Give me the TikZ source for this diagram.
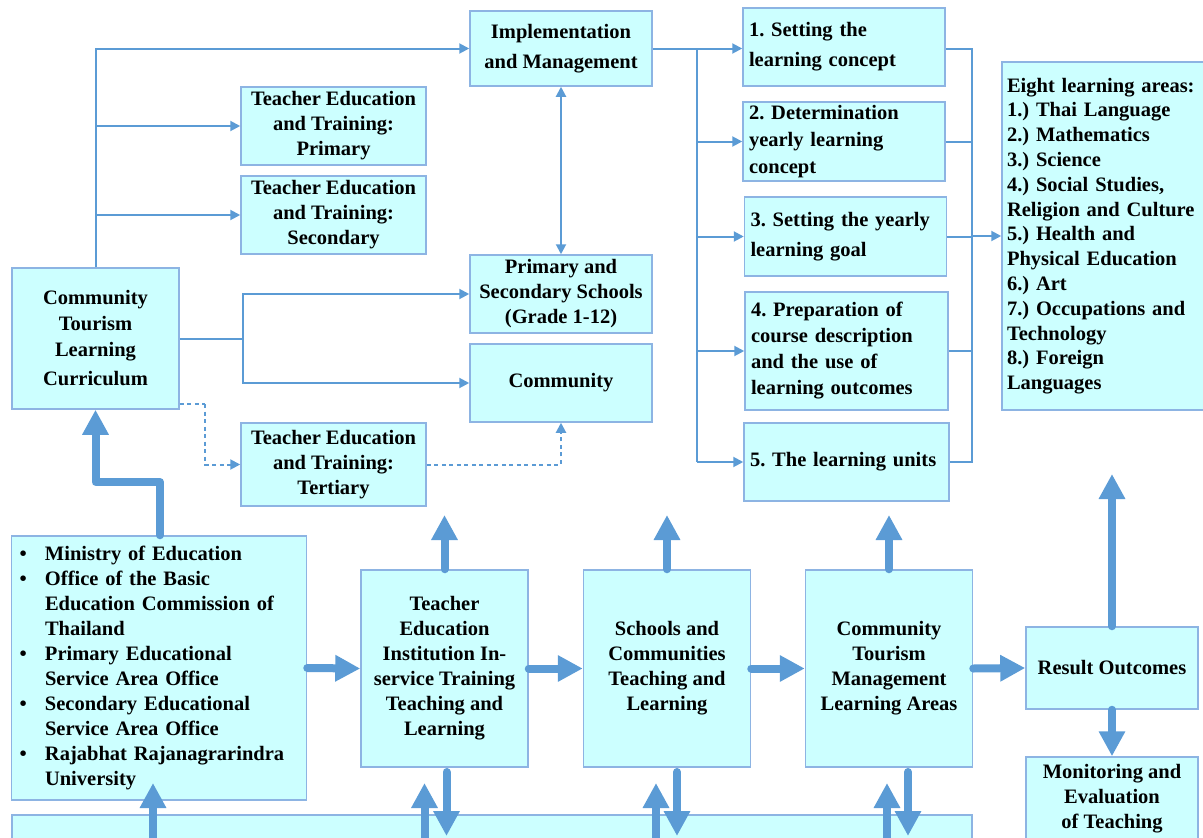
\documentclass[tikz,border=0pt]{standalone}
\usepackage{fontspec}
\setmainfont{Liberation Serif}
\usetikzlibrary{arrows.meta}
\definecolor{boxfill}{RGB}{204,255,255}
\definecolor{boxline}{RGB}{141,180,227}
\definecolor{conn}{RGB}{91,155,213}
\tikzset{
  box/.style={draw=boxline, fill=boxfill, line width=1.5pt, inner sep=0pt, align=center, text=black},
  lbox/.style={box, align=left},
  tarr/.style={draw=conn, line width=2pt, -{Triangle[width=10pt,length=10pt]}},
  tline/.style={draw=conn, line width=2pt},
  darr/.style={draw=conn, line width=2pt, dash pattern=on 4pt off 3.5pt, -{Triangle[width=10pt,length=10pt]}},
  dline/.style={draw=conn, line width=2pt, dash pattern=on 4pt off 3.5pt},
  biarr/.style={draw=conn, line width=2pt, {Triangle[width=10pt,length=10pt]}-{Triangle[width=10pt,length=10pt]}},
  bigarr/.style={draw=conn, line width=8pt, line cap=round, line join=round, -{Triangle[width=25pt,length=25pt]}},
}
\newcommand{\fs}[1]{\fontsize{20.5}{#1}\selectfont\bfseries\frenchspacing}
\newcommand{\bul}{\makebox[28.5pt][l]{\hspace{3pt}\textbullet}}
\newcommand{\ind}{\hspace*{28.5pt}}
\begin{document}
\begin{tikzpicture}[x=1pt,y=-1pt]
\useasboundingbox (0,0) rectangle (1203,838);
% top-left region
\node[box, minimum width=182pt, minimum height=75pt, font=\fs{30}] (impl) at (561,48.5) {Implementation\\and Management};
\node[box, minimum width=185pt, minimum height=78pt, font=\fs{25}] (tep) at (333.5,126) {Teacher Education\\and Training:\\Primary};
\node[box, minimum width=185pt, minimum height=78pt, font=\fs{25}] (tes) at (333.5,215) {Teacher Education\\and Training:\\Secondary};
\node[box, minimum width=167pt, minimum height=141pt, font=\fs{26}] (ctlc) at (95.5,338.5) {Community\\Tourism\\Learning\\[3pt]Curriculum};
\node[box, minimum width=182pt, minimum height=78pt, font=\fs{25}] (pss) at (561,294) {Primary and\\Secondary Schools\\(Grade 1-12)};
\node[box, minimum width=182pt, minimum height=78pt, font=\fs{25}] (comm) at (561,383) {Community};
\node[box, minimum width=185pt, minimum height=83pt, font=\fs{25}] (tet) at (333.5,464.5) {Teacher Education\\and Training:\\Tertiary};
% steps
\node[lbox, minimum width=202pt, minimum height=78pt, text width=190pt, font=\fs{30}] (s1) at (844,47) {1. Setting the\\learning concept};
\node[lbox, minimum width=202pt, minimum height=79pt, text width=190pt, font=\fs{27}] (s2) at (844,141.5) {2. Determination\\yearly learning\\concept};
\node[lbox, minimum width=202pt, minimum height=79pt, text width=190pt, font=\fs{30}] (s3) at (845.5,236.5) {3. Setting the yearly\\learning goal};
\node[lbox, minimum width=203pt, minimum height=118pt, text width=191pt, font=\fs{26}] (s4) at (846.5,351) {4. Preparation of\\course description\\and the use of\\learning outcomes};
\node[lbox, minimum width=205pt, minimum height=78pt, text width=193pt, font=\fs{25}] (s5) at (846.5,462) {5. The learning units};
\node[lbox, minimum width=204pt, minimum height=348pt, text width=194pt, font=\fs{24.8}] (eight) at (1104,236) {Eight learning areas:\\1.) Thai Language\\2.) Mathematics\\3.) Science\\4.) Social Studies,\\Religion and Culture\\5.) Health and\\Physical Education\\6.) Art\\7.) Occupations and\\Technology\\8.) Foreign\\Languages};
% bottom row
\node[lbox, minimum width=295pt, minimum height=264pt, text width=285pt, font=\fs{24.9}] (min) at (159,668) {%
\bul Ministry of Education\\
\bul Office of the Basic\\
\ind Education Commission of\\
\ind Thailand\\
\bul Primary Educational\\
\ind Service Area Office\\
\bul Secondary Educational\\
\ind Service Area Office\\
\bul Rajabhat Rajanagrarindra\\
\ind University};
\node[box, minimum width=167pt, minimum height=197pt, font=\fs{25}] (tei) at (444.5,668.5) {Teacher\\Education\\Institution In-\\service Training\\Teaching and\\Learning};
\node[box, minimum width=167pt, minimum height=197pt, font=\fs{25}] (sc) at (667,668.5) {Schools and\\Communities\\Teaching and\\Learning};
\node[box, minimum width=167pt, minimum height=197pt, font=\fs{25}] (ctm) at (889,668.5) {Community\\Tourism\\Management\\Learning Areas};
\node[box, minimum width=172pt, minimum height=82pt, font=\fs{25}] (res) at (1112,668) {Result Outcomes};
\node[box, minimum width=172pt, minimum height=84pt, font=\fs{25}] (mon) at (1112,799) {Monitoring and\\Evaluation\\of Teaching};
\node[box, minimum width=960pt, minimum height=40pt] (bar) at (492,835) {};
% coordinates
\coordinate (j1) at (243,338.5);
\coordinate (d1) at (205,404);
\coordinate (j2) at (697,48.5);
\coordinate (j3) at (972,48.5);
\coordinate (k1) at (160,482);
\coordinate (upy) at (0,515);
\coordinate (resup) at (1112,474);
\coordinate (boty) at (0,840);
\coordinate (tipy) at (0,783);
\coordinate (dsy) at (0,772);
\coordinate (dey) at (0,836);
% thin connectors
\draw[tarr] (ctlc.north) |- (impl.west);
\draw[tarr] (ctlc.north |- tep.west) -- (tep.west);
\draw[tarr] (ctlc.north |- tes.west) -- (tes.west);
\draw[tline] (ctlc.east) -- (j1);
\draw[tarr] (j1) |- (pss.west);
\draw[tarr] (j1) |- (comm.west);
\draw[dline] (ctlc.east |- d1) -- (d1);
\draw[darr] (d1) |- (tet.west);
\draw[darr] (tet.east) -| (comm.south);
\draw[biarr] (impl.south) -- (pss.north);
\draw[tarr] (impl.east) -- (s1.west |- impl.east);
\draw[tline] (j2) -- (j2 |- s5.west);
\draw[tarr] (j2 |- s2.west) -- (s2.west);
\draw[tarr] (j2 |- s3.west) -- (s3.west);
\draw[tarr] (j2 |- s4.west) -- (s4.west);
\draw[tarr] (j2 |- s5.west) -- (s5.west);
\draw[tline] (s1.east |- j3) -- (j3) -- (j3 |- s5.east) -- (s5.east);
\draw[tline] (s2.east) -- (j3 |- s2.east);
\draw[tline] (s3.east) -- (j3 |- s3.east);
\draw[tline] (s4.east) -- (j3 |- s4.east);
\draw[tarr] (j3 |- eight.west) -- (eight.west);
% thick arrows
\draw[bigarr] (min.north -| k1) -- (k1) -| (ctlc.south);
\draw[bigarr] (min.east) -- (tei.west);
\draw[bigarr] (tei.east) -- (sc.west);
\draw[bigarr] (sc.east) -- (ctm.west);
\draw[bigarr] (ctm.east) -- (res.west);
\draw[bigarr] (tei.north) -- (tei.north |- upy);
\draw[bigarr] (sc.north) -- (sc.north |- upy);
\draw[bigarr] (ctm.north) -- (ctm.north |- upy);
\draw[bigarr] (res.north) -- (resup);
\draw[bigarr] (res.south) -- (mon.north);
\draw[bigarr] ([xshift=-6pt]min.south |- boty) -- ([xshift=-6pt]min.south |- tipy);
\draw[bigarr] ([xshift=-20pt]tei.south |- boty) -- ([xshift=-20pt]tei.south |- tipy);
\draw[bigarr] ([xshift=-11pt]sc.south |- boty) -- ([xshift=-11pt]sc.south |- tipy);
\draw[bigarr] ([xshift=-2pt]ctm.south |- boty) -- ([xshift=-2pt]ctm.south |- tipy);
\draw[bigarr] ([xshift=2pt]tei.south |- dsy) -- ([xshift=2pt]tei.south |- dey);
\draw[bigarr] ([xshift=10pt]sc.south |- dsy) -- ([xshift=10pt]sc.south |- dey);
\draw[bigarr] ([xshift=19pt]ctm.south |- dsy) -- ([xshift=19pt]ctm.south |- dey);
\end{tikzpicture}
\end{document}
